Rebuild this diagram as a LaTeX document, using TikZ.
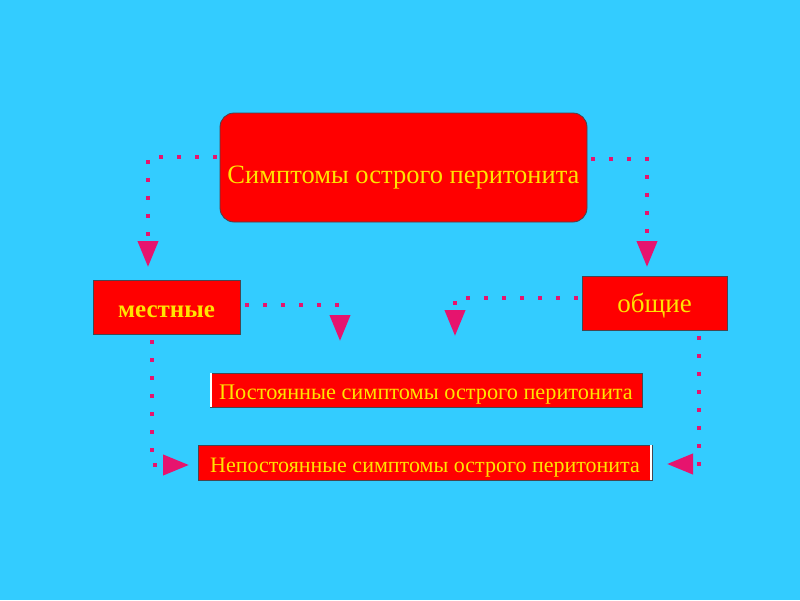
\documentclass[tikz,border=0pt]{standalone}
\usepackage{fontspec}
\setmainfont{Liberation Serif}
\usetikzlibrary{arrows.meta, calc}
\definecolor{Sky}{RGB}{51, 204, 255}
\definecolor{BoxRed}{RGB}{255, 0, 0}
\definecolor{Gold}{RGB}{255, 228, 0}
\definecolor{Magenta}{RGB}{230, 20, 110}
\definecolor{Edge}{RGB}{70, 70, 80}

\begin{document}
\begin{tikzpicture}[x=1pt, y=-1pt,
  box/.style={fill=BoxRed, draw=Edge, line width=0.8pt, text=Gold, inner sep=0pt, text depth=0pt},
  link/.style={Magenta, line width=4pt, dash pattern=on 4pt off 14pt,
    -{Triangle[length=26pt, width=20pt]}}]

% Background
\fill[Sky] (0,0) rectangle (800,600);
\useasboundingbox (0,0) rectangle (800,600);

% Main box
\node[box, rounded corners=14pt, minimum width=367pt, minimum height=109pt, text height=31pt,
  font=\fontsize{26.5}{30}\selectfont] (main) at (403.5,167.5) {Симптомы острого перитонита};

% Local and general signs
\node[box, minimum width=147pt, minimum height=54pt, text height=21pt,
  font=\fontsize{25}{29}\selectfont\bfseries] (local) at (166.5,307) {местные};
\node[box, minimum width=145pt, minimum height=54pt, text height=18pt,
  font=\fontsize{27}{31}\selectfont] (general) at (654.5,303) {общие};

% Permanent / non-permanent symptoms
\node[box, minimum width=432pt, minimum height=34pt, text height=18pt,
  font=\fontsize{22.3}{26}\selectfont] (perm) at (426,390) {Постоянные симптомы острого перитонита};
\node[box, minimum width=454pt, minimum height=35pt, text height=19pt,
  font=\fontsize{22}{26}\selectfont] (nonperm) at (425,462.5) {Непостоянные симптомы острого перитонита};
\draw[white, line width=2pt] ([xshift=1pt]perm.north west) -- ([xshift=1pt]perm.south west);
\draw[white, line width=2pt] ([xshift=-1pt]nonperm.north east) -- ([xshift=-1pt]nonperm.south east);

% Arrow ends
\coordinate (tipA) at (148,267);
\coordinate (tipB) at (647,267);
\coordinate (tipC) at (340,341);
\coordinate (tipD) at (455,336);
\coordinate (tipE) at (189,465);
\coordinate (tipF) at (667,464);

% Dotted connectors
\draw[link] ($(main.west)+(-3,-11)$) -| (tipA);
\draw[link] ($(main.east)+(4,-9)$) -| (tipB);
\draw[link] ($(local.east)+(5,-2)$) -| (tipC);
\draw[link] ($(general.west)+(-4,-5)$) -| (tipD);
\draw[link] ($(local.south)+(-15,6)$) |- (tipE);
\draw[link] ($(general.south)+(44.5,6)$) |- (tipF);

\end{tikzpicture}
\end{document}
